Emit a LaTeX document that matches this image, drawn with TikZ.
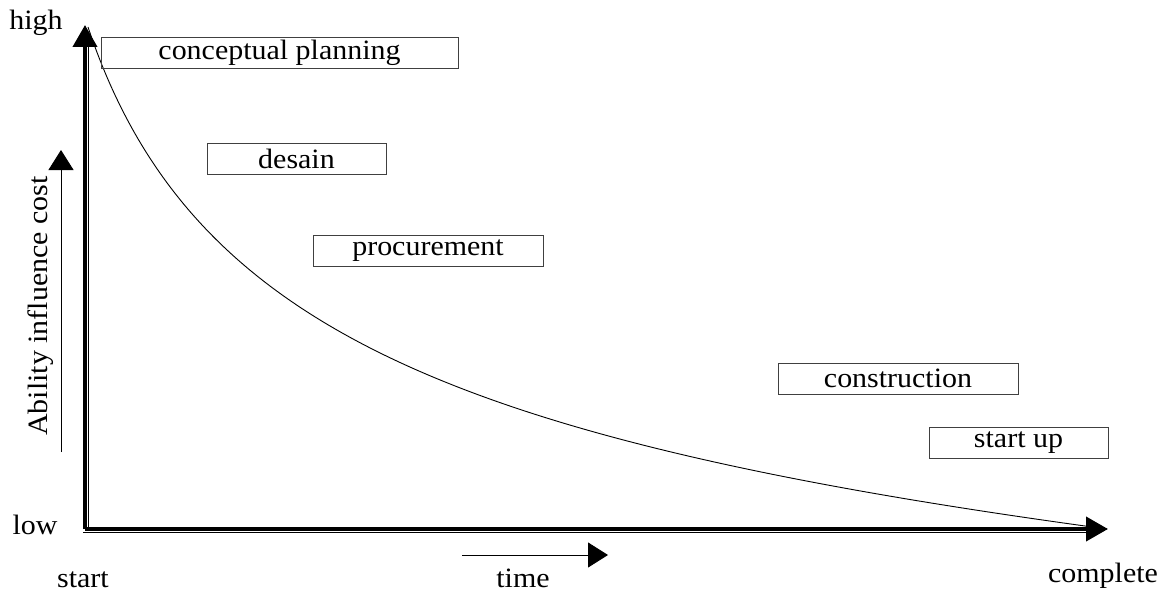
\documentclass[tikz,border=0pt]{standalone}
\usepackage{fontspec}
\setmainfont{Liberation Serif}[FakeStretch=1.07]
\usetikzlibrary{arrows.meta}
\begin{document}
\begin{tikzpicture}[x=1pt,y=-1pt,
    every node/.style={font=\fontsize{28}{30}\selectfont, inner sep=0pt},
    phase/.style={draw=black!75, line width=0.8pt, minimum height=31pt},
    axis/.style={line width=4pt, -{Triangle[length=22pt,width=24pt]}},
    hint/.style={line width=0.9pt, -{Triangle[length=20pt,width=25pt]}}]
  \useasboundingbox (0,0) rectangle (1170,594);
  % axes
  \coordinate (origin) at (85,529);
  \coordinate (ytop) at (85,25);
  \coordinate (xend) at (1108,529);
  \draw[axis] (origin) -- (ytop);
  \draw[axis] (origin) -- (xend);
  \draw[line width=1pt] (88.7,530) -- (88.7,46);
  \draw[line width=1pt] (83,532.3) -- (1086,532.3);
  % cost curve
  \coordinate (c0) at (88,27);
  \coordinate (c1) at (1107,529);
  \draw[line width=0.9pt] (c0) .. controls (188,327) and (450,440) .. (c1);
  % phases
  \node[phase, minimum width=357pt] (concept) at (279.5,52.5) {conceptual planning};
  \node[phase, minimum width=179pt] (desain) at (296.5,158.5) {desain};
  \node[phase, minimum width=230pt] (procure) at (428,250.5) {procurement};
  \node[phase, minimum width=240pt] (construct) at (898,378.5) {construction};
  \node[phase, minimum width=179pt] (startup) at (1018.5,443) {start up};
  % axis labels
  \node[anchor=base] (high) at (36,30) {high};
  \node[anchor=base] (low) at (35,534) {low};
  \node[anchor=base] (start) at (83,587) {start};
  \node[anchor=base] (time) at (523,587) {time};
  \node[anchor=base] (complete) at (1103,582) {complete};
  \node[rotate=90, anchor=base] (ability) at (47,306) {Ability influence cost};
  \coordinate (t0) at (462,555);
  \coordinate (t1) at (608,555);
  \draw[hint] (t0) -- (t1);
  \coordinate (a0) at (61,452);
  \coordinate (a1) at (61,150);
  \draw[hint] (a0) -- (a1);
\end{tikzpicture}
\end{document}
